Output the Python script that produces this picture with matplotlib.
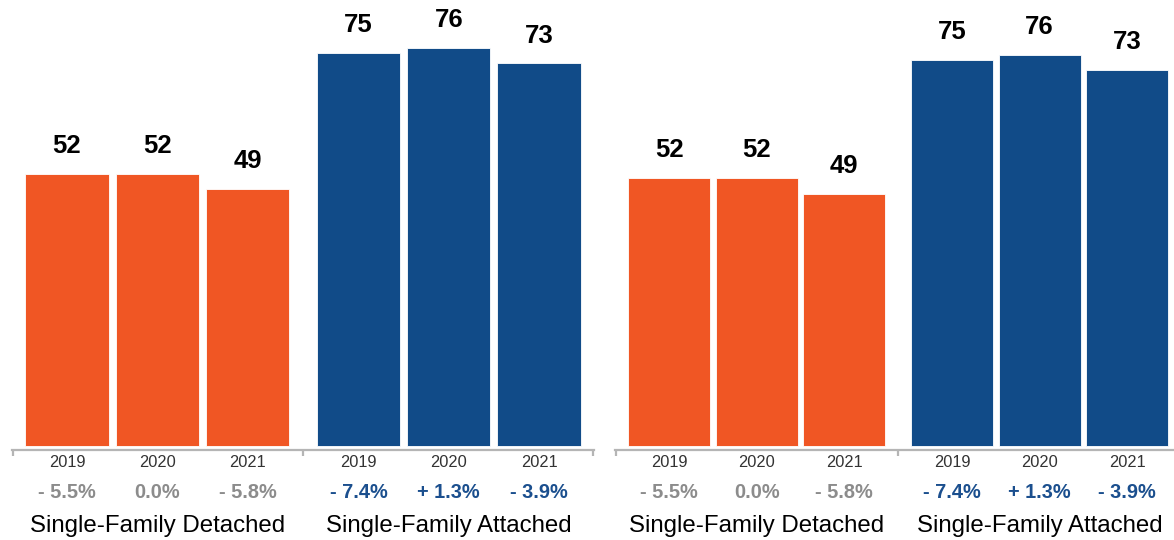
import matplotlib
matplotlib.use("Agg")
import matplotlib.pyplot as plt

plt.rcParams['font.family'] = ['Liberation Sans', 'DejaVu Sans']

# data
years = ['2019', '2020', '2021']
groups = ['Single-Family Detached', 'Single-Family Attached']
detached = [52, 52, 49]
attached = [75, 76, 73]
detached_chg = ['- 5.5%', '0.0%', '- 5.8%']
attached_chg = ['- 7.4%', '+ 1.3%', '- 3.9%']

orange = '#F05624'
blue = '#114B88'
gray_txt = '#8C8C8C'
blue_txt = '#1B4F8E'
spine_col = '#B5B5B5'

W, H = 1174, 540
fig = plt.figure(figsize=(W / 100, H / 100), dpi=100)

pos = [0, 1, 2, 3.23, 4.23, 5.23]
sep = (2 + 3.23) / 2


def panel(left_px, right_px, c0, step, pxu, width, end_tick):
    ax = fig.add_axes([left_px / W, 90 / H, (right_px - left_px) / W, 450 / H])
    x0 = (left_px - c0) / step
    x1 = (right_px - c0) / step
    ax.set_xlim(x0, x1)
    ax.set_ylim(-4 / pxu, 446 / pxu)
    vals = detached + attached
    cols = [orange] * 3 + [blue] * 3
    ax.bar(pos, vals, width=width, color=cols, edgecolor='white', linewidth=0.6)
    for x, v in zip(pos, vals):
        ax.annotate(str(v), (x, v), xytext=(0, 20), textcoords='offset points',
                    ha='center', va='center', fontsize=18.5, fontweight='bold',
                    color='black')
    chg = detached_chg + attached_chg
    chg_cols = [gray_txt] * 3 + [blue_txt] * 3
    for i, x in enumerate(pos):
        ax.annotate(years[i % 3], (x, 0), xycoords=('data', 'axes fraction'),
                    xytext=(0, -8.8), textcoords='offset points',
                    ha='center', va='center', fontsize=11.8, color='#333333')
        ax.annotate(chg[i], (x, 0), xycoords=('data', 'axes fraction'),
                    xytext=(0, -30.5), textcoords='offset points',
                    ha='center', va='center', fontsize=14.4, fontweight='bold',
                    color=chg_cols[i])
    for g, name in enumerate(groups):
        ax.annotate(name, (pos[g * 3 + 1], 0), xycoords=('data', 'axes fraction'),
                    xytext=(0, -54.5), textcoords='offset points',
                    ha='center', va='center', fontsize=17.3, color='black')
    for s in ['top', 'right', 'left']:
        ax.spines[s].set_visible(False)
    ax.spines['bottom'].set_color(spine_col)
    ax.spines['bottom'].set_linewidth(1.6)
    ticks = [x0 + 0.01, sep] + ([x1 - 0.01] if end_tick else [])
    ax.set_xticks(ticks)
    ax.set_xticklabels([''] * len(ticks))
    ax.tick_params(axis='x', direction='out', length=4.5, width=1.6, color=spine_col)
    ax.set_yticks([])
    return ax


panel(12, 594, 67, 90.25, 5.24, 0.92, True)
panel(615, 1176, 669, 87.6, 5.15, 0.935, False)

fig.savefig('out.png', dpi=100)
